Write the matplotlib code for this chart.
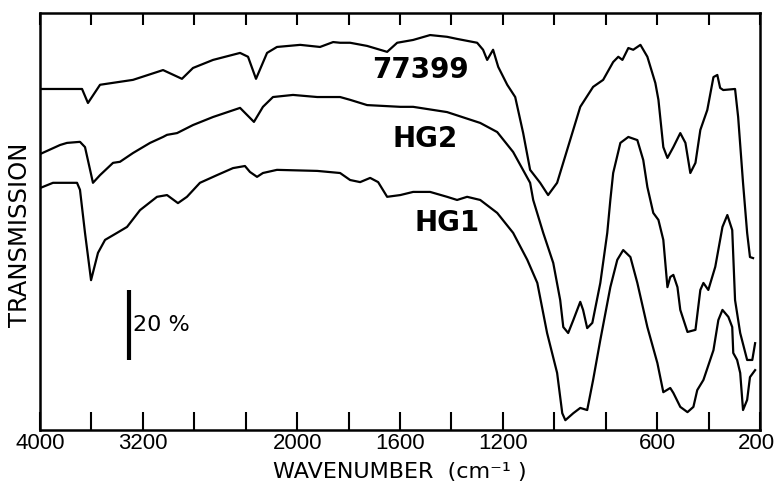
import numpy as np
import matplotlib
matplotlib.use('Agg')
import matplotlib.pyplot as plt
from matplotlib.transforms import ScaledTranslation

# spectra: wavenumber (cm-1) and transmission (%, offset per trace)
w_77399 = [4000, 3673, 3627, 3533, 3277, 3043, 2896, 2810, 2654, 2444, 2382, 2320, 2234, 2157,
           1988, 1911, 1860, 1833, 1794, 1728, 1650, 1611, 1549, 1483, 1417, 1378, 1300, 1277,
           1261, 1238, 1218, 1183, 1152, 1121, 1094, 1055, 1024, 989, 950, 899, 849, 810, 771,
           751, 735, 712, 693, 665, 638, 607, 595, 576, 560, 537, 510, 490, 471, 451, 432, 405,
           381, 366, 355, 343, 297, 285, 266, 250, 239, 227]
t_77399 = [101.7, 101.7, 97.7, 102.9, 104.3, 107.1, 104.6, 107.7, 110.0, 112.0, 110.9, 104.6,
           112.0, 113.7, 114.3, 113.7, 115.1, 114.9, 114.9, 114.0, 112.3, 114.9, 115.7, 117.1,
           116.6, 116.0, 114.9, 112.9, 110.0, 112.9, 108.0, 102.9, 99.4, 89.1, 78.6, 74.9, 71.4,
           74.9, 84.3, 96.6, 102.3, 104.3, 109.4, 110.9, 110.0, 113.4, 112.9, 114.3, 110.9, 103.4,
           98.6, 85.1, 82.0, 85.1, 89.1, 86.3, 77.7, 80.6, 90.0, 95.7, 105.1, 105.7, 102.0, 101.4,
           101.7, 93.7, 74.9, 60.6, 53.7, 53.4]

w_hg2 = [4000, 3844, 3790, 3689, 3650, 3588, 3533, 3432, 3378, 3277, 3144, 3043, 3012, 2934,
         2810, 2654, 2444, 2336, 2266, 2188, 2032, 1922, 1833, 1794, 1728, 1599, 1549, 1417,
         1288, 1222, 1160, 1094, 1082, 1043, 1004, 977, 965, 946, 926, 899, 888, 872, 852, 821,
         794, 782, 771, 743, 712, 677, 654, 638, 615, 595, 576, 560, 549, 537, 521, 510, 482,
         451, 432, 420, 401, 374, 346, 327, 308, 297, 277, 250, 230, 219]
t_hg2 = [83.1, 85.7, 86.3, 86.6, 85.1, 74.9, 77.1, 80.6, 80.9, 83.4, 86.3, 88.0, 88.6, 89.1,
         91.4, 93.7, 96.3, 92.3, 96.6, 99.4, 100.0, 99.4, 99.4, 98.6, 97.1, 96.6, 96.6, 95.1,
         92.0, 89.4, 83.7, 74.9, 70.0, 60.6, 52.0, 41.4, 33.7, 32.0, 35.7, 40.9, 38.6, 33.4,
         34.9, 46.3, 60.6, 70.0, 77.7, 86.3, 88.0, 87.1, 81.4, 73.7, 66.3, 64.3, 58.6, 45.1,
         48.0, 48.6, 45.1, 38.6, 32.3, 32.9, 44.3, 46.3, 44.3, 50.9, 62.3, 65.7, 61.4, 41.4,
         32.0, 24.3, 24.3, 29.1]

w_hg1 = [4000, 3899, 3712, 3689, 3650, 3603, 3549, 3494, 3401, 3323, 3222, 3090, 3012, 2927,
         2857, 2756, 2623, 2499, 2406, 2367, 2312, 2266, 2157, 1922, 1833, 1794, 1755, 1716,
         1685, 1650, 1599, 1549, 1483, 1417, 1378, 1339, 1288, 1222, 1160, 1105, 1066, 1028,
         989, 969, 957, 926, 899, 872, 849, 821, 782, 755, 732, 704, 677, 638, 599, 576, 549,
         537, 510, 482, 459, 444, 420, 381, 362, 346, 323, 308, 304, 289, 277, 266, 250, 239, 219]
t_hg1 = [73.4, 74.9, 74.9, 72.9, 60.6, 47.1, 54.9, 58.6, 60.6, 62.3, 67.1, 70.9, 71.4, 69.1,
         70.9, 74.9, 77.1, 79.1, 79.7, 78.0, 76.6, 77.7, 78.6, 78.3, 77.7, 75.7, 75.1, 76.3,
         75.1, 70.9, 71.4, 72.3, 72.3, 70.9, 70.0, 70.9, 70.0, 66.3, 60.6, 52.9, 46.3, 32.0,
         20.6, 9.1, 7.1, 9.1, 10.6, 10.0, 18.6, 30.0, 45.1, 52.9, 55.7, 53.7, 46.3, 33.7, 23.4,
         15.1, 16.3, 14.9, 10.9, 9.4, 10.9, 15.7, 18.6, 27.1, 35.7, 38.6, 36.6, 33.7, 26.3,
         24.3, 20.6, 10.0, 12.9, 19.4, 21.4]

# trace labels and where they sit (wavenumber, transmission)
labels = ['77399', 'HG2', 'HG1']
label_w = [1522, 1503, 1417]
label_t = [107.1, 87.4, 63.4]

# axis ticks
tick_w = [4000, 3600, 3200, 2800, 2400, 2000, 1800, 1600, 1400, 1200, 1000, 800, 600, 400, 200]
tick_lab = ['4000', '', '3200', '', '', '2000', '', '1600', '', '1200', '', '', '600', '', '200']

# 20 % scale bar
bar_w = 3310
bar_t0 = 24.3
bar_len = 20


# grating change at 2000 cm-1: 400 cm-1 per division above, 200 below
def fwd(w):
    w = np.asarray(w, dtype=float)
    return np.where(w >= 2000, w / 400.0, 5 + (w - 2000) / 200.0)


def inv(p):
    p = np.asarray(p, dtype=float)
    return np.where(p >= 5, p * 400.0, 2000 + (p - 5) * 200.0)


fig = plt.figure(figsize=(7.77, 4.84), dpi=100)
ax = fig.add_axes([40 / 777, 54 / 484, 720 / 777, 417 / 484])

for w, t in [(w_77399, t_77399), (w_hg2, t_hg2), (w_hg1, t_hg1)]:
    ax.plot(w, t, color='black', lw=1.6, solid_joinstyle='round')

for s, x, y in zip(labels, label_w, label_t):
    ax.text(x, y, s, ha='center', va='center', fontsize=20, fontweight='bold',
            family='DejaVu Sans')

# scale bar
ax.plot([bar_w, bar_w], [bar_t0, bar_t0 + bar_len], color='black', lw=3, solid_capstyle='butt')
ax.text(bar_w - 30, bar_t0 + bar_len / 2, '20 %', ha='left', va='center', fontsize=16)

ax.set_xscale('function', functions=(fwd, inv))
ax.set_xlim(4000, 200)
ax.set_ylim(4.3, 123.4)

ax.set_xticks(tick_w)
ax.set_xticklabels(tick_lab, family='Liberation Sans', fontsize=16)
ax.set_xticks(tick_w, minor=True)
ax.xaxis.remove_overlapping_locs = False
ax.tick_params(axis='x', which='major', direction='in', length=13, width=1.5,
               bottom=True, top=False, pad=2)
ax.tick_params(axis='x', which='minor', direction='in', length=8.5, width=1.5,
               bottom=False, top=True)
ax.set_yticks([])

# last label sits a little left of its tick, as in the original
last = ax.get_xticklabels()[-1]
last.set_transform(last.get_transform() + ScaledTranslation(-4 / 100, 0, fig.dpi_scale_trans))

for sp in ax.spines.values():
    sp.set_linewidth(1.8)

ax.set_xlabel('WAVENUMBER  (cm\u207b\u00b9 )', fontsize=16)
ax.xaxis.label.set_va('baseline')
ax.xaxis.set_label_coords(0.5, -0.1163)
ax.set_ylabel('TRANSMISSION', fontsize=17.5)
ax.yaxis.set_label_coords(-0.028, 0.468)
ax.yaxis.label.set_va('center')

fig.savefig('out.png', dpi=100)
